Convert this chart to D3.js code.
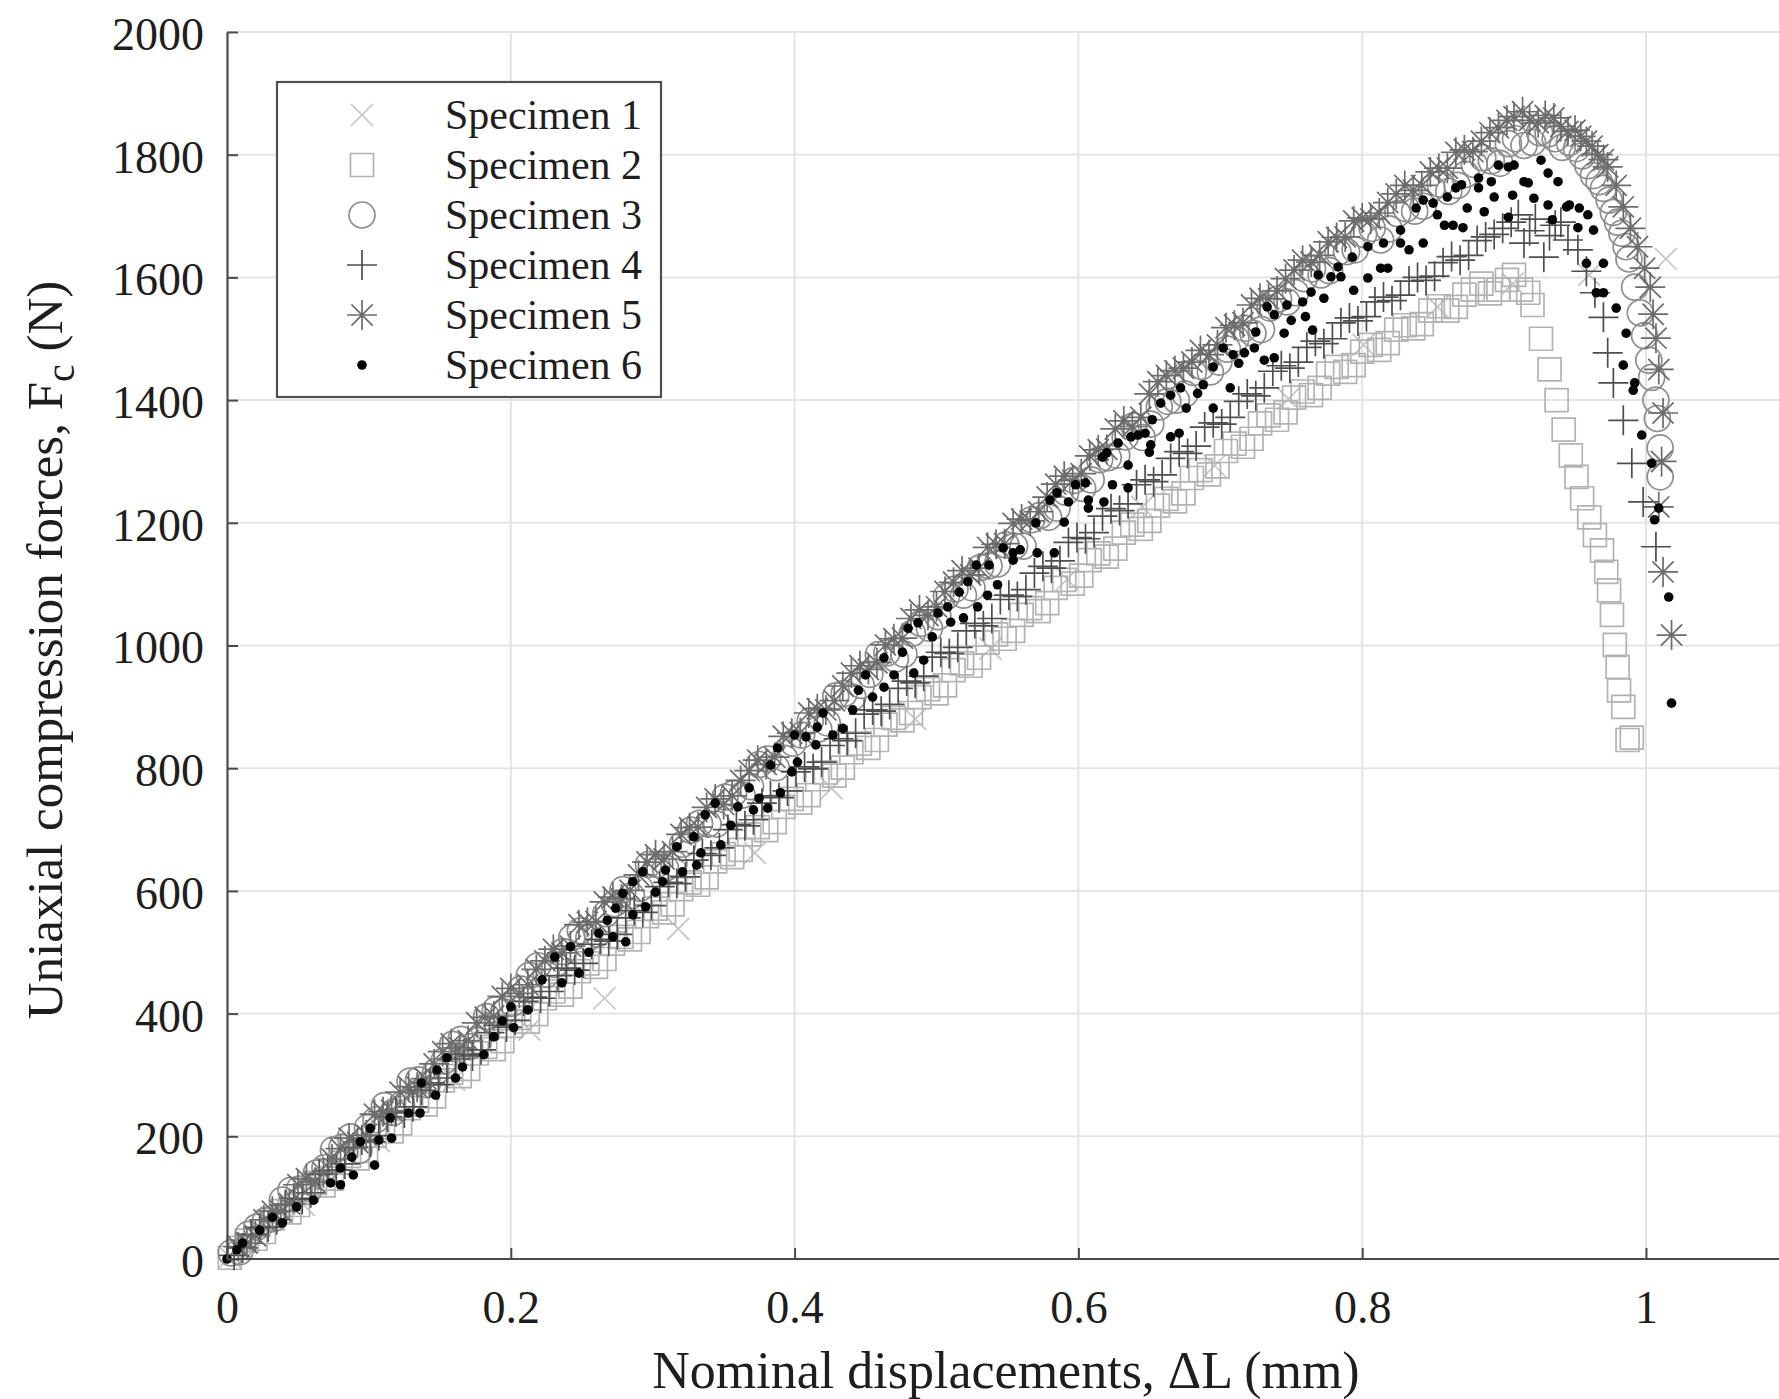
<!DOCTYPE html>
<html>
<head>
<meta charset="utf-8">
<script src="https://cdn.jsdelivr.net/npm/d3@7"></script>
<style>
  html, body { margin: 0; padding: 0; background: #ffffff; }
  svg { display: block; }
  text { font-family: "Liberation Serif", "Times New Roman", serif; fill: #1e1e1e; }
</style>
</head>
<body>
<svg id="chart" width="1779" height="1399"></svg>
<script>
// ---------------- data (displacement mm, force N) ----------------
const xTicks = [0, 0.2, 0.4, 0.6, 0.8, 1];
const xTickLabels = ["0", "0.2", "0.4", "0.6", "0.8", "1"];
const yTicks = [0, 200, 400, 600, 800, 1000, 1200, 1400, 1600, 1800, 2000];
const yTickLabels = ["0", "200", "400", "600", "800", "1000", "1200", "1400", "1600", "1800", "2000"];
const legendLabels = ["Specimen 1", "Specimen 2", "Specimen 3", "Specimen 4", "Specimen 5", "Specimen 6"];
const xTitle = "Nominal displacements, \u0394L (mm)";

const specimen1 = [[0.002,3],[0.054,88],[0.107,192],[0.160,292],[0.213,374],[0.266,425],[0.318,538],
  [0.372,662],[0.426,767],[0.485,880],[0.538,995],[0.592,1108],[0.645,1226],[0.696,1293],[0.748,1402],
  [0.801,1490],[0.853,1552],[0.906,1590],[0.960,1604],[1.014,1630]];

const specimen2 = [[0.002,2],[0.014,30],[0.026,44],[0.038,78],[0.050,88],[0.062,124],[0.074,131],[0.086,168],
  [0.098,176],[0.110,215],[0.122,221],[0.134,258],[0.146,265],[0.158,304],[0.170,310],[0.182,346],[0.194,355],
  [0.206,393],[0.218,399],[0.230,436],[0.242,444],[0.254,482],[0.266,489],[0.278,525],[0.290,533],[0.302,571],
  [0.314,578],[0.326,614],[0.338,622],[0.350,660],[0.362,667],[0.374,704],[0.386,712],[0.398,750],[0.410,756],
  [0.422,793],[0.434,801],[0.446,840],[0.458,846],[0.470,882],[0.482,890],[0.494,929],[0.506,935],[0.518,971],
  [0.530,980],[0.542,1018],[0.554,1024],[0.566,1061],[0.578,1069],[0.590,1107],[0.602,1114],[0.614,1150],
  [0.626,1158],[0.638,1197],[0.650,1203],[0.662,1239],[0.674,1248],[0.686,1286],[0.698,1292],[0.710,1329],
  [0.722,1337],[0.734,1375],[0.746,1380],[0.758,1414],[0.770,1420],[0.782,1454],[0.794,1457],[0.806,1490],
  [0.818,1493],[0.830,1522],[0.842,1524],[0.854,1553],[0.866,1552],[0.878,1580],[0.890,1574],[0.902,1596],
  [0.912,1580],[0.920,1555],[0.926,1500],[0.932,1450],[0.937,1400],[0.942,1352],[0.947,1310],[0.951,1275],
  [0.955,1240],[0.960,1209],[0.964,1180],[0.969,1155],[0.972,1120],[0.974,1090],[0.976,1050],[0.978,1001],
  [0.980,965],[0.981,927],[0.984,900],[0.987,846],[0.990,850],
  [0.008,18],[0.020,33],[0.032,66],[0.044,76],[0.056,112],[0.068,120],[0.080,157],[0.092,164],[0.104,201],
  [0.116,208],[0.128,246],[0.140,252],[0.152,291],[0.164,298],[0.176,335],[0.188,342],[0.200,380],[0.212,387],
  [0.224,425],[0.236,431],[0.248,469],[0.260,476],[0.272,514],[0.284,521],[0.296,559],[0.308,565],[0.320,603],
  [0.332,610],[0.344,648],[0.356,655],[0.368,692],[0.380,699],[0.392,737],[0.404,744],[0.416,782],[0.428,788],
  [0.440,826],[0.452,833],[0.464,871],[0.476,878],[0.488,916],[0.500,922],[0.512,960],[0.524,967],[0.536,1005],
  [0.548,1011],[0.560,1050],[0.572,1056],[0.584,1094],[0.596,1101],[0.608,1139],[0.620,1145],[0.632,1184],
  [0.644,1190],[0.656,1228],[0.668,1235],[0.680,1273],[0.692,1279],[0.704,1317],[0.716,1324],[0.728,1362],
  [0.740,1368],[0.752,1404],[0.764,1408],[0.776,1443],[0.788,1446],[0.800,1479],[0.812,1482],[0.824,1515],
  [0.836,1517],[0.848,1546],[0.860,1546],[0.872,1572],[0.884,1590],[0.896,1580],[0.907,1604],[0.917,1575]];

const specimen3 = [[0.003,10],[0.015,40],[0.027,62],[0.039,96],[0.051,114],[0.063,140],[0.075,178],[0.087,199],
  [0.099,214],[0.111,250],[0.123,251],[0.135,292],[0.147,305],[0.159,350],[0.171,346],[0.183,395],[0.195,403],
  [0.207,440],[0.219,478],[0.231,480],[0.243,524],[0.255,524],[0.267,563],[0.279,602],[0.291,604],[0.303,643],
  [0.315,645],[0.327,699],[0.339,709],[0.351,753],[0.363,756],[0.375,806],[0.387,801],[0.399,841],[0.411,877],
  [0.423,874],[0.435,922],[0.447,935],[0.459,985],[0.471,978],[0.483,1020],[0.495,1028],[0.507,1080],
  [0.519,1082],[0.531,1127],[0.543,1133],[0.555,1162],[0.567,1205],[0.579,1209],[0.591,1250],[0.603,1256],
  [0.615,1303],[0.627,1310],[0.639,1358],[0.651,1361],[0.663,1398],[0.675,1410],[0.687,1455],[0.699,1462],
  [0.711,1500],[0.723,1509],[0.735,1550],[0.747,1560],[0.759,1598],[0.771,1604],[0.783,1641],[0.795,1645],
  [0.807,1680],[0.819,1679],[0.831,1712],[0.843,1716],[0.855,1752],[0.867,1750],[0.879,1784],[0.891,1790],
  [0.903,1818],[0.914,1815],[0.925,1836],[0.936,1826],[0.946,1820],[0.955,1798],[0.963,1766],[0.970,1745],
  [0.977,1706],[0.983,1672],[0.988,1630],[0.992,1584],[0.996,1542],[0.999,1505],[1.002,1465],[1.004,1437],
  [1.007,1400],[1.008,1370],[1.010,1322],[1.010,1275],
  [0.009,12],[0.021,52],[0.033,66],[0.045,112],[0.057,110],[0.069,149],[0.081,182],[0.093,177],[0.105,227],
  [0.117,239],[0.129,290],[0.141,284],[0.153,323],[0.165,358],[0.177,356],[0.189,406],[0.201,417],[0.213,462],
  [0.225,464],[0.237,501],[0.249,535],[0.261,530],[0.273,579],[0.285,592],[0.297,643],[0.309,637],[0.321,676],
  [0.333,710],[0.345,709],[0.357,759],[0.369,770],[0.381,815],[0.393,816],[0.405,854],[0.417,864],[0.429,918],
  [0.441,916],[0.453,953],[0.465,988],[0.477,986],[0.489,1036],[0.501,1047],[0.513,1092],[0.525,1094],
  [0.537,1130],[0.549,1164],[0.561,1162],[0.573,1212],[0.585,1224],[0.597,1269],[0.609,1270],[0.621,1306],
  [0.633,1340],[0.645,1339],[0.657,1389],[0.669,1400],[0.681,1445],[0.693,1446],[0.705,1483],[0.717,1517],
  [0.729,1515],[0.741,1565],[0.753,1575],[0.765,1614],[0.777,1611],[0.789,1642],[0.801,1670],[0.813,1661],
  [0.825,1704],[0.837,1708],[0.849,1745],[0.861,1740],[0.873,1768],[0.885,1795],[0.897,1786],[0.908,1826],
  [0.920,1820],[0.931,1834],[0.941,1812],[0.951,1810],[0.959,1782],[0.967,1756],[0.974,1726],[0.980,1690],
  [0.986,1650]];

const specimen4 = [[0.005,6],[0.017,40],[0.029,52],[0.041,88],[0.053,97],[0.065,138],[0.077,145],[0.089,182],
  [0.101,191],[0.113,232],[0.125,238],[0.137,275],[0.149,284],[0.161,326],[0.173,331],[0.185,369],[0.197,378],
  [0.209,420],[0.221,425],[0.233,462],[0.245,471],[0.257,513],[0.269,518],[0.281,556],[0.293,565],[0.305,607],
  [0.317,612],[0.329,650],[0.341,658],[0.353,700],[0.365,706],[0.377,743],[0.389,752],[0.401,794],[0.413,799],
  [0.425,837],[0.437,845],[0.449,888],[0.461,893],[0.473,930],[0.485,939],[0.497,981],[0.509,987],[0.521,1024],
  [0.533,1032],[0.545,1075],[0.557,1080],[0.569,1118],[0.581,1126],[0.593,1168],[0.605,1174],[0.617,1211],
  [0.629,1220],[0.641,1262],[0.653,1267],[0.665,1305],[0.677,1313],[0.689,1356],[0.701,1361],[0.713,1398],
  [0.725,1407],[0.737,1447],[0.749,1452],[0.761,1486],[0.773,1492],[0.785,1526],[0.797,1529],[0.809,1560],
  [0.821,1562],[0.833,1594],[0.845,1595],[0.857,1624],[0.869,1628],[0.881,1660],[0.893,1670],[0.905,1690],
  [0.914,1656],[0.922,1695],[0.928,1633],[0.936,1685],[0.945,1661],[0.952,1645],[0.958,1610],[0.964,1575],
  [0.970,1535],[0.973,1477],[0.977,1428],[0.984,1367],[0.990,1297],[0.998,1234],[1.007,1161],
  [0.011,18],[0.023,51],[0.035,64],[0.047,99],[0.059,108],[0.071,144],[0.083,155],[0.095,194],[0.107,201],
  [0.119,240],[0.131,248],[0.143,287],[0.155,295],[0.167,334],[0.179,341],[0.191,381],[0.203,389],[0.215,427],
  [0.227,436],[0.239,474],[0.251,482],[0.263,521],[0.275,529],[0.287,568],[0.299,576],[0.311,614],[0.323,623],
  [0.335,661],[0.347,670],[0.359,708],[0.371,716],[0.383,755],[0.395,763],[0.407,802],[0.419,810],[0.431,848],
  [0.443,857],[0.455,895],[0.467,904],[0.479,942],[0.491,950],[0.503,989],[0.515,997],[0.527,1036],[0.539,1044],
  [0.551,1082],[0.563,1091],[0.575,1129],[0.587,1138],[0.599,1176],[0.611,1184],[0.623,1223],[0.635,1231],
  [0.647,1270],[0.659,1278],[0.671,1316],[0.683,1325],[0.695,1363],[0.707,1372],[0.719,1410],[0.731,1420],
  [0.743,1456],[0.755,1462],[0.767,1496],[0.779,1500],[0.791,1534],[0.803,1536],[0.815,1568],[0.827,1571],
  [0.839,1600],[0.851,1602],[0.863,1634],[0.875,1636],[0.887,1666],[0.899,1680],[0.910,1702],[0.918,1676],
  [0.932,1668],[0.940,1690]];

const specimen5 = [[0.008,20],[0.020,38],[0.032,78],[0.044,90],[0.056,131],[0.068,140],[0.080,180],[0.092,190],
  [0.104,236],[0.116,242],[0.128,281],[0.140,294],[0.152,338],[0.164,344],[0.176,385],[0.188,396],[0.200,441],
  [0.212,447],[0.224,486],[0.236,499],[0.248,545],[0.260,550],[0.272,590],[0.284,601],[0.296,647],[0.308,652],
  [0.320,692],[0.332,704],[0.344,750],[0.356,755],[0.368,796],[0.380,806],[0.392,852],[0.404,858],[0.416,897],
  [0.428,910],[0.440,955],[0.452,961],[0.464,1001],[0.476,1012],[0.488,1058],[0.500,1063],[0.512,1103],
  [0.524,1115],[0.536,1160],[0.548,1166],[0.560,1206],[0.572,1218],[0.584,1263],[0.596,1269],[0.608,1309],
  [0.620,1320],[0.632,1366],[0.644,1372],[0.656,1430],[0.668,1448],[0.680,1462],[0.692,1474],[0.704,1518],
  [0.716,1526],[0.728,1566],[0.740,1578],[0.752,1612],[0.764,1625],[0.776,1658],[0.788,1666],[0.800,1697],
  [0.812,1705],[0.824,1736],[0.836,1742],[0.848,1772],[0.860,1778],[0.872,1808],[0.884,1822],[0.896,1844],
  [0.907,1862],[0.918,1856],[0.929,1864],[0.940,1846],[0.950,1840],[0.958,1822],[0.966,1800],[0.973,1780],
  [0.979,1750],[0.984,1715],[0.989,1680],[0.994,1650],[0.999,1615],[1.003,1584],[1.005,1540],[1.007,1501],
  [1.009,1450],[1.012,1379],[1.011,1300],[1.009,1226],[1.012,1120],[1.018,1017],
  [0.014,26],[0.026,64],[0.038,78],[0.050,121],[0.062,125],[0.074,163],[0.086,197],[0.098,202],[0.110,240],
  [0.122,272],[0.134,280],[0.146,318],[0.158,351],[0.170,356],[0.182,394],[0.194,428],[0.206,433],[0.218,472],
  [0.230,505],[0.242,510],[0.254,549],[0.266,582],[0.278,587],[0.290,626],[0.302,659],[0.314,664],[0.326,703],
  [0.338,736],[0.350,741],[0.362,780],[0.374,813],[0.386,818],[0.398,857],[0.410,890],[0.422,895],[0.434,934],
  [0.446,967],[0.458,972],[0.470,1011],[0.482,1044],[0.494,1049],[0.506,1088],[0.518,1122],[0.530,1126],
  [0.542,1165],[0.554,1199],[0.566,1203],[0.578,1242],[0.590,1276],[0.602,1280],[0.614,1319],[0.626,1353],
  [0.638,1357],[0.650,1410],[0.662,1440],[0.674,1452],[0.686,1481],[0.698,1490],[0.710,1522],[0.722,1555],
  [0.734,1565],[0.746,1598],[0.758,1628],[0.770,1636],[0.782,1665],[0.794,1692],[0.806,1695],[0.818,1722],
  [0.830,1750],[0.842,1750],[0.854,1778],[0.866,1804],[0.878,1805],[0.890,1836],[0.902,1856],[0.913,1870],
  [0.924,1852],[0.935,1860],[0.945,1838],[0.954,1830],[0.962,1814],[0.970,1792]];

const specimen6 = [[0.000,0],[0.007,15],[0.011,26],[0.023,47],[0.032,68],[0.039,59],[0.049,85],[0.061,96],
  [0.073,124],[0.080,121],[0.080,148],[0.089,137],[0.088,166],[0.094,191],[0.101,213],[0.104,153],[0.107,194],
  [0.115,230],[0.116,197],[0.128,238],[0.136,238],[0.137,287],[0.147,267],[0.148,308],[0.155,328],[0.161,295],
  [0.166,313],[0.181,333],[0.188,362],[0.194,388],[0.200,411],[0.202,377],[0.212,406],[0.222,455],[0.231,492],
  [0.236,450],[0.242,509],[0.248,466],[0.255,500],[0.262,531],[0.268,552],[0.272,525],[0.274,572],[0.279,596],
  [0.281,517],[0.286,615],[0.286,561],[0.293,631],[0.295,574],[0.302,598],[0.307,615],[0.309,634],[0.317,672],
  [0.321,631],[0.329,688],[0.331,642],[0.334,662],[0.337,724],[0.344,743],[0.348,675],[0.355,707],[0.360,737],
  [0.368,768],[0.371,732],[0.375,751],[0.381,735],[0.383,805],[0.388,833],[0.390,760],[0.398,794],[0.400,854],
  [0.402,810],[0.408,851],[0.415,838],[0.416,867],[0.420,890],[0.427,854],[0.434,865],[0.441,895],[0.445,927],
  [0.450,952],[0.455,916],[0.463,932],[0.463,980],[0.470,952],[0.476,989],[0.480,1028],[0.484,955],[0.487,1037],
  [0.491,976],[0.497,1014],[0.501,1053],[0.508,1063],[0.510,1038],[0.516,1087],[0.519,1045],[0.522,1104],
  [0.528,1131],[0.529,1063],[0.536,1082],[0.537,1131],[0.543,1099],[0.547,1159],[0.554,1151],[0.554,1139],
  [0.559,1156],[0.570,1200],[0.571,1151],[0.580,1237],[0.583,1151],[0.585,1249],[0.590,1201],[0.593,1234],
  [0.598,1262],[0.605,1265],[0.607,1237],[0.607,1224],[0.617,1307],[0.618,1234],[0.620,1314],[0.624,1262],
  [0.628,1330],[0.635,1257],[0.635,1294],[0.637,1340],[0.642,1343],[0.647,1346],[0.650,1315],[0.651,1327],
  [0.652,1368],[0.658,1395],[0.665,1340],[0.665,1408],[0.671,1346],[0.672,1420],[0.676,1387],[0.684,1411],
  [0.688,1425],[0.695,1387],[0.695,1454],[0.702,1485],[0.707,1420],[0.709,1474],[0.713,1460],[0.717,1477],
  [0.724,1485],[0.725,1511],[0.731,1465],[0.733,1552],[0.738,1469],[0.738,1539],[0.745,1509],[0.747,1555],
  [0.750,1530],[0.758,1560],[0.760,1536],[0.764,1576],[0.765,1514],[0.769,1604],[0.773,1566],[0.778,1601],
  [0.783,1617],[0.785,1601],[0.793,1633],[0.794,1579],[0.804,1650],[0.804,1599],[0.813,1615],[0.815,1656],
  [0.818,1615],[0.827,1677],[0.827,1656],[0.833,1645],[0.838,1713],[0.843,1726],[0.843,1656],[0.850,1721],
  [0.853,1702],[0.858,1685],[0.860,1731],[0.864,1685],[0.866,1746],[0.870,1751],[0.871,1681],[0.874,1713],
  [0.882,1746],[0.882,1762],[0.886,1707],[0.891,1756],[0.893,1731],[0.896,1783],[0.903,1780],[0.907,1783],
  [0.906,1734],[0.903,1698],[0.914,1756],[0.917,1754],[0.921,1729],[0.926,1791],[0.931,1770],[0.938,1756],
  [0.931,1718],[0.934,1694],[0.944,1715],[0.946,1718],[0.953,1713],[0.959,1702],[0.952,1681],[0.963,1677],
  [0.958,1623],[0.970,1623],[0.965,1575],[0.970,1575],[0.979,1550],[0.986,1509],[0.984,1457],[0.992,1428],
  [0.991,1416],[0.997,1343],[1.004,1297],[1.009,1224],[1.006,1205],[1.016,1079],[1.018,906]];

// ---------------- chart ----------------
const W = 1779, H = 1399;
const svg = d3.select("#chart");

const x = d3.scaleLinear().domain([0, 1]).range([227, 1646]);
const y = d3.scaleLinear().domain([0, 2000]).range([1259, 32]);
const xEnd = W;

// grid
const grid = svg.append("g").attr("stroke", "#e4e4e4").attr("stroke-width", 2);
grid.selectAll("line.v").data(xTicks.slice(1)).join("line")
  .attr("x1", d => x(d)).attr("x2", d => x(d))
  .attr("y1", y(0)).attr("y2", y(2000));
grid.selectAll("line.h").data(yTicks.slice(1)).join("line")
  .attr("x1", x(0)).attr("x2", xEnd)
  .attr("y1", d => y(d)).attr("y2", d => y(d));

// markers
const markerDefs = {
  times:    { path: "M-11,-11L11,11M-11,11L11,-11", stroke: "#c4c4c4", fill: "none" },
  square:   { path: "M-11.5,-11.5H11.5V11.5H-11.5Z", stroke: "#b3b3b3", fill: "none" },
  circle:   { path: d3.arc()({innerRadius: 0, outerRadius: 13, startAngle: 0, endAngle: 2 * Math.PI}), stroke: "#8e8e8e", fill: "none" },
  plus:     { path: "M-15,0H15M0,-15V15", stroke: "#4e4e4e", fill: "none" },
  asterisk: { path: "M-15,0H15M0,-15V15M-10.6,-10.6L10.6,10.6M-10.6,10.6L10.6,-10.6", stroke: "#6c6c6c", fill: "none" },
  dot:      { path: d3.arc()({innerRadius: 0, outerRadius: 4.8, startAngle: 0, endAngle: 2 * Math.PI}), stroke: "none", fill: "#050505" }
};
const series = [
  { data: specimen1, marker: "times" },
  { data: specimen2, marker: "square" },
  { data: specimen3, marker: "circle" },
  { data: specimen4, marker: "plus" },
  { data: specimen5, marker: "asterisk" },
  { data: specimen6, marker: "dot" }
];

const plot = svg.append("g");
series.forEach(s => {
  const m = markerDefs[s.marker];
  plot.append("g")
    .selectAll("path").data(s.data).join("path")
    .attr("transform", d => `translate(${x(d[0])},${y(d[1])})`)
    .attr("d", m.path)
    .attr("fill", m.fill)
    .attr("stroke", m.stroke)
    .attr("stroke-width", 1.7);
});

// axes
const axisColor = "#4a4a4a";
const xAxis = d3.axisBottom(x).tickValues(xTicks)
  .tickFormat((d, i) => xTickLabels[i]).tickSizeInner(-11).tickSizeOuter(0).tickPadding(31);
const gx = svg.append("g").attr("transform", `translate(0,${y(0)})`).call(xAxis);
gx.select(".domain").attr("d", `M${x(0)},0H${xEnd}`);
const yAxis = d3.axisLeft(y).tickValues(yTicks)
  .tickFormat((d, i) => yTickLabels[i]).tickSizeInner(-11).tickSizeOuter(0).tickPadding(23);
const gy = svg.append("g").attr("transform", `translate(${x(0)},0)`).call(yAxis);

[gx, gy].forEach(g => {
  g.select(".domain").attr("stroke", axisColor).attr("stroke-width", 2.2);
  g.selectAll(".tick line").attr("stroke", axisColor).attr("stroke-width", 2);
  g.selectAll(".tick text").attr("font-size", 46).attr("fill", "#222")
    .attr("font-family", "'Liberation Serif', 'Times New Roman', serif");
});
gy.selectAll(".tick text").attr("dy", "0.38em");

// axis titles
svg.append("text")
  .attr("x", 1006).attr("y", 1388)
  .attr("text-anchor", "middle").attr("font-size", 52)
  .text(xTitle);

const yt = svg.append("text")
  .attr("transform", "translate(62,650) rotate(-90)")
  .attr("text-anchor", "middle").attr("font-size", 51);
yt.append("tspan").text("Uniaxial compression forces, F");
yt.append("tspan").attr("dy", 12).attr("font-size", 40).text("c");
yt.append("tspan").attr("dy", -12).text(" (N)");

// legend
const lg = svg.append("g");
lg.append("rect").attr("x", 277).attr("y", 82).attr("width", 384).attr("height", 315)
  .attr("fill", "#ffffff").attr("stroke", "#505050").attr("stroke-width", 2.2);
const rowY = d3.scaleLinear().domain([0, 5]).range([115, 365]);
const items = lg.selectAll("g.item").data(series).join("g")
  .attr("transform", (d, i) => `translate(0,${rowY(i)})`);
items.append("path")
  .attr("transform", "translate(362,0)")
  .attr("d", d => markerDefs[d.marker].path)
  .attr("fill", d => markerDefs[d.marker].fill)
  .attr("stroke", d => markerDefs[d.marker].stroke)
  .attr("stroke-width", 1.7);
items.append("text")
  .attr("x", 445).attr("y", 14)
  .attr("font-size", 42)
  .text((d, i) => legendLabels[i]);
</script>
</body>
</html>
